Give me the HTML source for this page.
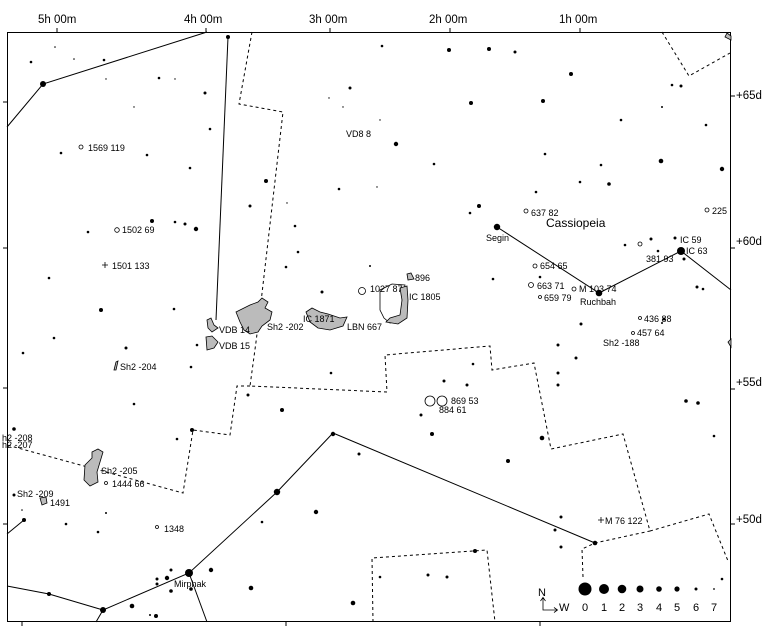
<!DOCTYPE html>
<html><head><meta charset="utf-8"><style>
html,body{margin:0;padding:0;background:#fff;}
svg{display:block;font-family:"Liberation Sans",sans-serif;}
.t{font-size:9px;fill:#000;}
.ax{font-size:11.5px;fill:#000;}
</style></head><body>
<svg width="775" height="640" viewBox="0 0 775 640" xmlns="http://www.w3.org/2000/svg">
<rect width="775" height="640" fill="#fff"/>
<g class="ax">
<text x="38" y="23">5h 00m</text><text x="184" y="23">4h 00m</text><text x="309" y="23">3h 00m</text><text x="429" y="23">2h 00m</text><text x="559" y="23">1h 00m</text>
<text x="736" y="99">+65d</text><text x="736" y="245">+60d</text><text x="736" y="386">+55d</text><text x="736" y="523">+50d</text>
</g>
<!-- frame -->
<rect x="7.5" y="32.5" width="723" height="589" fill="none" stroke="#000" stroke-width="1"/>
<g stroke="#000" stroke-width="1">
<line x1="57" y1="28" x2="57" y2="32"/><line x1="206" y1="28" x2="206" y2="32"/><line x1="330" y1="28" x2="330" y2="32"/><line x1="450" y1="28" x2="450" y2="32"/><line x1="580" y1="28" x2="580" y2="32"/>
<line x1="731" y1="96" x2="735" y2="96"/><line x1="731" y1="248" x2="735" y2="248"/><line x1="731" y1="389" x2="735" y2="389"/><line x1="731" y1="524" x2="735" y2="524"/>
<line x1="3" y1="102" x2="7" y2="102"/><line x1="3" y1="248" x2="7" y2="248"/><line x1="3" y1="388" x2="7" y2="388"/><line x1="3" y1="524" x2="7" y2="524"/>
<line x1="22" y1="622" x2="22" y2="626"/><line x1="286" y1="622" x2="286" y2="626"/><line x1="540" y1="622" x2="540" y2="626"/>
</g>
<!-- constellation lines -->
<g stroke="#000" stroke-width="1" fill="none">
<polyline points="7,127 43,84 207,32"/>
<polyline points="228,37 216,320"/>
<polyline points="497,227 599,293 681,251 731,290"/>
<polyline points="595,543 333,433 277,492 189,573 103,610 96,622"/>
<polyline points="7,586 49,594 103,610"/>
<polyline points="7,534 24,520"/>
<polyline points="189,573 207,622"/>
</g>
<!-- boundaries -->
<g stroke="#000" stroke-width="1" fill="none" stroke-dasharray="3,3">
<polyline points="252,32 239,104 283,112 261,302 256,342 250,386 387,392 385,355 490,346 492,370 534,363 551,449 623,434 650,531 709,514 728,561"/>
<polyline points="250,386 237,386 230,435 193,430 183,493 7,445"/>
<polyline points="373,622 372,558 487,550 495,622"/>
<polyline points="583,577 582,549 595,543 650,531"/>
<polyline points="662,32 689,76 730,53"/>
</g>
<!-- nebulae -->
<g fill="#bbb" stroke="#000" stroke-width="0.8">
<path d="M236,312 L250,305 L258,302 L262,298 L268,302 L265,308 L272,312 L270,320 L262,326 L258,332 L250,334 L244,330 L240,322 Z"/>
<path d="M207,320 L211,318 L214,325 L218,328 L212,332 L208,328 Z"/>
<path d="M206,337 L212,336 L218,342 L214,348 L207,350 Z"/>
<path d="M306,312 L312,308 L320,312 L328,314 L340,318 L347,317 L343,326 L330,330 L318,328 L310,322 Z"/>
<path d="M380,290 L392,284 L405,285 L402,300 L404,312 L400,320 L390,323 L384,318 L380,310 Z" fill="#fff"/>
<path d="M400,288 L407,286 L408,300 L407,318 L398,324 L386,322 L390,318 L400,315 L402,300 Z"/>
<path d="M85,465 L92,458 L92,452 L98,449 L103,452 L100,462 L97,472 L98,482 L90,486 L84,480 Z"/>
<path d="M40,498 L46,497 L47,503 L42,505 Z"/>
<path d="M114,370 L116,362 L118,361 L116,370 Z"/>
<path d="M731,36 L727,33 L725,37 L731,40 Z"/>
<path d="M731,339 L728,342 L731,347 Z"/>
<path d="M407,274 L411,273 L414,279 L408,280 Z"/>
</g>
<!-- stars -->
<g fill="#000">
<circle cx="43" cy="84" r="3"/><circle cx="228" cy="37" r="2"/>
<circle cx="55" cy="47" r=".8"/><circle cx="31" cy="62" r="1.3"/><circle cx="74" cy="59" r=".8"/><circle cx="104" cy="60" r="1.3"/><circle cx="159" cy="78" r="1.3"/><circle cx="175" cy="79" r=".7"/><circle cx="106" cy="79" r=".7"/><circle cx="205" cy="93" r="1.5"/><circle cx="329" cy="98" r=".7"/><circle cx="350" cy="88" r="1.5"/><circle cx="343" cy="107" r=".7"/><circle cx="380" cy="120" r=".7"/><circle cx="382" cy="46" r="1.3"/><circle cx="134" cy="107" r=".7"/><circle cx="210" cy="129" r="1.3"/><circle cx="61" cy="153" r="1.3"/><circle cx="147" cy="155" r="1.3"/><circle cx="190" cy="168" r="1.3"/><circle cx="266" cy="181" r="2"/><circle cx="250" cy="206" r="1.5"/><circle cx="339" cy="189" r="1.3"/><circle cx="377" cy="187" r=".7"/><circle cx="287" cy="203" r=".7"/><circle cx="152" cy="221" r="2"/><circle cx="175" cy="222" r="1.3"/><circle cx="185" cy="224" r="1.5"/><circle cx="196" cy="229" r="2.2"/><circle cx="88" cy="232" r="1.3"/><circle cx="295" cy="226" r="1.3"/><circle cx="298" cy="252" r="1.3"/><circle cx="286" cy="267" r="1.3"/><circle cx="370" cy="266" r="1"/><circle cx="49" cy="278" r="1.3"/><circle cx="101" cy="310" r="2"/><circle cx="174" cy="309" r="1.3"/><circle cx="322" cy="292" r="1.5"/><circle cx="396" cy="144" r="2.2"/>
<circle cx="449" cy="50" r="2"/><circle cx="489" cy="49" r="2"/><circle cx="515" cy="52" r="1.5"/><circle cx="571" cy="74" r="2"/><circle cx="471" cy="103" r="2"/><circle cx="543" cy="101" r="2"/><circle cx="661" cy="161" r="2.3"/><circle cx="722" cy="169" r="2.2"/><circle cx="609" cy="184" r="1.8"/><circle cx="580" cy="182" r="1.3"/><circle cx="545" cy="154" r="1.3"/><circle cx="601" cy="165" r="1.3"/><circle cx="621" cy="120" r="1.3"/><circle cx="672" cy="85" r="1.3"/><circle cx="681" cy="86" r="1.5"/><circle cx="662" cy="107" r="1"/><circle cx="706" cy="125" r="1.3"/><circle cx="434" cy="164" r="1.3"/><circle cx="536" cy="192" r="1.3"/><circle cx="479" cy="206" r="2"/><circle cx="470" cy="213" r="1.3"/><circle cx="493" cy="279" r="1.3"/><circle cx="540" cy="277" r="1.3"/><circle cx="625" cy="245" r="1.3"/><circle cx="651" cy="239" r="1.5"/><circle cx="697" cy="287" r="1.5"/><circle cx="703" cy="289" r="1.3"/><circle cx="684" cy="259" r="1.5"/><circle cx="658" cy="251" r="1.3"/><circle cx="675" cy="238" r="1.5"/>
<circle cx="497" cy="227" r="3.2"/><circle cx="599" cy="293" r="3.3"/><circle cx="681" cy="251" r="4"/>
<circle cx="54" cy="338" r="1.3"/><circle cx="23" cy="353" r="1.3"/><circle cx="126" cy="348" r="1.5"/><circle cx="197" cy="345" r="1.3"/><circle cx="191" cy="367" r="1.3"/><circle cx="134" cy="404" r="1.3"/><circle cx="14" cy="429" r="1.8"/><circle cx="192" cy="430" r="2"/><circle cx="177" cy="439" r="1.3"/><circle cx="248" cy="395" r="1.5"/><circle cx="282" cy="410" r="2"/><circle cx="333" cy="434" r="2.2"/><circle cx="359" cy="454" r="1.5"/><circle cx="331" cy="373" r="1.3"/><circle cx="277" cy="492" r="3.2"/><circle cx="316" cy="512" r="2.2"/><circle cx="262" cy="522" r="1.3"/><circle cx="24" cy="520" r="2"/><circle cx="66" cy="524" r="1.3"/><circle cx="98" cy="532" r="1.3"/><circle cx="106" cy="513" r="1"/><circle cx="14" cy="495" r="1.5"/><circle cx="22" cy="510" r=".8"/>
<circle cx="189" cy="573" r="4"/><circle cx="211" cy="570" r="2.2"/><circle cx="171" cy="570" r="1.5"/><circle cx="167" cy="578" r="2.2"/><circle cx="157" cy="579" r="1.5"/><circle cx="157" cy="584" r="1.5"/><circle cx="171" cy="591" r="1.8"/><circle cx="191" cy="589" r="1.8"/><circle cx="49" cy="594" r="2"/><circle cx="103" cy="610" r="3"/><circle cx="132" cy="606" r="2.3"/><circle cx="156" cy="616" r="2"/><circle cx="150" cy="615" r="1"/><circle cx="251" cy="588" r="2.3"/><circle cx="353" cy="603" r="2.3"/><circle cx="380" cy="577" r="1.3"/>
<circle cx="581" cy="324" r="1.5"/><circle cx="558" cy="345" r="1.5"/><circle cx="576" cy="358" r="1.5"/><circle cx="558" cy="373" r="1.5"/><circle cx="558" cy="385" r="1.5"/><circle cx="473" cy="364" r="1.3"/><circle cx="467" cy="385" r="1.5"/><circle cx="444" cy="381" r="1.5"/><circle cx="421" cy="415" r="1.5"/><circle cx="432" cy="434" r="2"/><circle cx="542" cy="438" r="2.3"/><circle cx="508" cy="461" r="2"/><circle cx="686" cy="401" r="1.8"/><circle cx="698" cy="403" r="1.8"/><circle cx="714" cy="436" r="1.3"/><circle cx="561" cy="517" r="1.5"/><circle cx="555" cy="530" r="1.5"/><circle cx="561" cy="547" r="1.5"/><circle cx="475" cy="551" r="2"/><circle cx="428" cy="575" r="1.5"/><circle cx="447" cy="577" r="1.5"/><circle cx="722" cy="579" r="1.3"/><circle cx="595" cy="543" r="2.3"/><circle cx="664" cy="319" r="1.5"/><circle cx="662" cy="323" r="1"/>
</g>
<!-- deep-sky symbols -->
<g fill="none" stroke="#000" stroke-width="0.8">
<circle cx="117" cy="230" r="2.3"/><circle cx="526" cy="211" r="2"/><circle cx="535" cy="266" r="2"/><circle cx="531" cy="285" r="2.5"/><circle cx="574" cy="289" r="2"/><circle cx="540" cy="297" r="1.5"/><circle cx="640" cy="244" r="2"/><circle cx="707" cy="210" r="2"/><circle cx="640" cy="318" r="1.5"/><circle cx="633" cy="333" r="1.5"/><circle cx="362" cy="291" r="3.5"/><circle cx="430" cy="401" r="5"/><circle cx="442" cy="401" r="5"/><circle cx="106" cy="483" r="1.5"/><circle cx="157" cy="527" r="1.5"/><circle cx="81" cy="147" r="2"/>
<path d="M102,265 h6 M105,262 v6 M598,520 h6 M601,517 v6"/>
</g>
<g class="t">
<text x="88" y="151">1569 119</text><text x="122" y="233">1502 69</text><text x="112" y="269">1501 133</text>
<text x="346" y="137">VD8 8</text>
<text x="219" y="333">VDB 14</text><text x="219" y="349">VDB 15</text><text x="267" y="330">Sh2 -202</text>
<text x="303" y="322">IC 1871</text><text x="347" y="330">LBN 667</text><text x="370" y="292">1027 87</text><text x="415" y="281">896</text><text x="409" y="300">IC 1805</text>
<text x="120" y="370">Sh2 -204</text><text x="2" y="441">h2 -208</text><text x="2" y="448">h2 -207</text>
<text x="101" y="474">Sh2 -205</text><text x="112" y="487">1444 66</text><text x="17" y="497">Sh2 -209</text><text x="50" y="506">1491</text><text x="164" y="532">1348</text>
<text x="174" y="587">Mirphak</text>
<text x="531" y="216">637 82</text><text x="546" y="227" style="font-size:12px">Cassiopeia</text><text x="486" y="241">Segin</text>
<text x="712" y="214">225</text><text x="680" y="243">IC 59</text><text x="686" y="254">IC 63</text><text x="646" y="262">381 93</text>
<text x="540" y="269">654 65</text><text x="537" y="289">663 71</text><text x="579" y="292">M 103 74</text><text x="544" y="301">659 79</text><text x="580" y="305">Ruchbah</text>
<text x="644" y="322">436 88</text><text x="637" y="336">457 64</text><text x="603" y="346">Sh2 -188</text>
<text x="451" y="404">869 53</text><text x="439" y="413">884 61</text><text x="605" y="524">M 76 122</text>
</g>
<!-- legend -->
<g fill="#000">
<circle cx="585" cy="589" r="6.5"/><circle cx="604" cy="589" r="5"/><circle cx="622" cy="589" r="4.3"/><circle cx="640" cy="589" r="3.5"/><circle cx="659" cy="589" r="2.8"/><circle cx="677" cy="589" r="2.6"/><circle cx="696" cy="589" r="1.5"/><circle cx="714" cy="589" r="0.9"/>
</g>
<g class="t" style="font-size:11px">
<text x="582" y="611">0</text><text x="601" y="611">1</text><text x="619" y="611">2</text><text x="637" y="611">3</text><text x="656" y="611">4</text><text x="674" y="611">5</text><text x="693" y="611">6</text><text x="711" y="611">7</text>
<text x="538" y="596">N</text><text x="559" y="611">W</text>
</g>
<path d="M543,598 v12 h14 M540.5,601 L543,597.5 L545.5,601 M554,607.5 L557.5,610 L554,612.5" fill="none" stroke="#000" stroke-width="0.8"/>
</svg>
</body></html>
